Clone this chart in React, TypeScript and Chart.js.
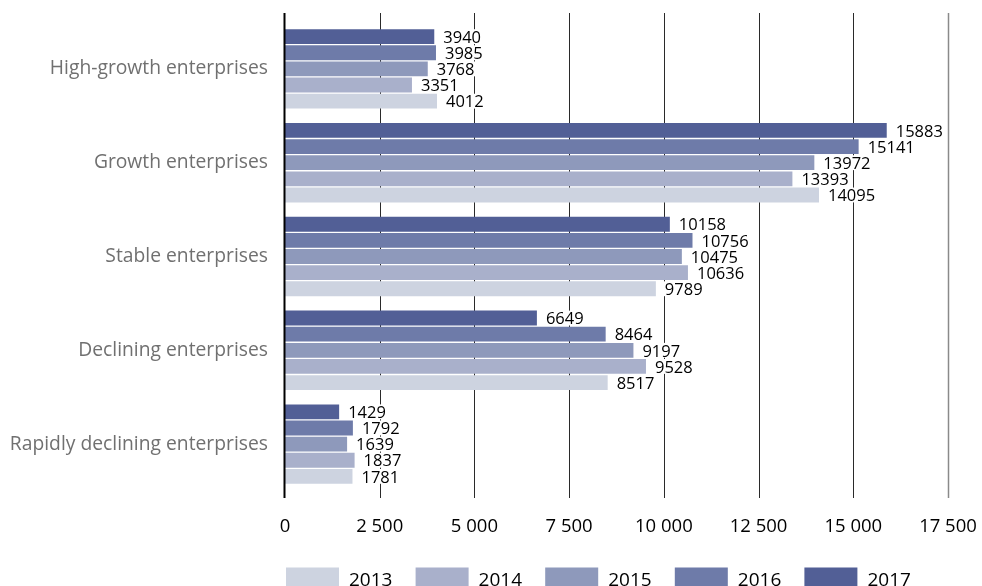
import React, { useEffect, useRef } from "react";
import { Chart, registerables } from "chart.js";

Chart.register(...registerables);

const categories = [
  "High-growth enterprises",
  "Growth enterprises",
  "Stable enterprises",
  "Declining enterprises",
  "Rapidly declining enterprises",
];
const years = ["2013", "2014", "2015", "2016", "2017"];
const values2013 = [4012, 14095, 9789, 8517, 1781];
const values2014 = [3351, 13393, 10636, 9528, 1837];
const values2015 = [3768, 13972, 10475, 9197, 1639];
const values2016 = [3985, 15141, 10756, 8464, 1792];
const values2017 = [3940, 15883, 10158, 6649, 1429];
const xTickValues = [0, 2500, 5000, 7500, 10000, 12500, 15000, 17500];
const yearColors = ["#cdd3e0", "#a9b0cb", "#8e99bb", "#6e7ba9", "#525f96"];

const FONT = "'Open Sans', 'Noto Sans', sans-serif";

const fmt = (v: number) => String(v).replace(/\B(?=(\d{3})+(?!\d))/g, " ");

const gridPlugin = {
  id: "customGrid",
  beforeDatasetsDraw(chart: any) {
    const { ctx, chartArea, scales } = chart;
    const xs = scales.x;
    const top = chartArea.top - 9;
    const bottom = chartArea.bottom + 7;
    ctx.save();
    xTickValues.forEach((v, i) => {
      if (v === 0) return;
      const px = Math.round(xs.getPixelForValue(v)) + 0.5;
      ctx.beginPath();
      ctx.strokeStyle = i === xTickValues.length - 1 ? "#8a8a8a" : "#2a2a2a";
      ctx.lineWidth = i === xTickValues.length - 1 ? 1.5 : 1;
      ctx.moveTo(px, top);
      ctx.lineTo(px, bottom);
      ctx.stroke();
    });
    ctx.restore();
  },
  afterDatasetsDraw(chart: any) {
    const { ctx, chartArea, scales } = chart;
    const xs = scales.x;
    const top = chartArea.top - 9;
    const bottom = chartArea.bottom + 7;
    // zero axis line
    const px0 = xs.getPixelForValue(0) - 0.5;
    ctx.save();
    ctx.beginPath();
    ctx.strokeStyle = "#000";
    ctx.lineWidth = 2;
    ctx.moveTo(px0, top);
    ctx.lineTo(px0, bottom);
    ctx.stroke();

    // value labels with white background
    ctx.font = `16.5px ${FONT}`;
    ctx.textAlign = "left";
    ctx.textBaseline = "middle";
    chart.data.datasets.forEach((ds: any, di: number) => {
      const meta = chart.getDatasetMeta(di);
      meta.data.forEach((bar: any, i: number) => {
        const text = String(ds.data[i]);
        const w = ctx.measureText(text).width;
        const h = bar.height;
        ctx.fillStyle = "#ffffff";
        ctx.fillRect(bar.x + 3, bar.y - h / 2, w + 9, h);
        ctx.fillStyle = "#000000";
        ctx.fillText(text, bar.x + 9, bar.y + 1.5);
      });
    });

    // legend
    const legendTop = 567.5;
    const startX = chartArea.left + 1;
    const pitch = 129.6;
    ctx.font = `19px ${FONT}`;
    ctx.textBaseline = "alphabetic";
    years.forEach((y, i) => {
      const x = startX + i * pitch;
      ctx.fillStyle = yearColors[i];
      ctx.fillRect(x, legendTop, 53, 22);
      ctx.fillStyle = "#000";
      ctx.fillText(y, x + 63, 585.5);
    });
    ctx.restore();
  },
};

export default function App() {
  const canvasRef = useRef<HTMLCanvasElement | null>(null);

  useEffect(() => {
    if (!canvasRef.current) return;
    const seriesByYear: Record<string, number[]> = {
      "2013": values2013,
      "2014": values2014,
      "2015": values2015,
      "2016": values2016,
      "2017": values2017,
    };
    const datasets = years
      .map((y, i) => ({
        label: y,
        data: seriesByYear[y],
        backgroundColor: yearColors[i],
        borderWidth: 0,
        categoryPercentage: 0.86,
        barPercentage: 0.92,
      }))
      .reverse();

    const chart = new Chart(canvasRef.current, {
      type: "bar",
      data: { labels: categories, datasets },
      plugins: [gridPlugin],
      options: {
        indexAxis: "y",
        animation: false,
        responsive: true,
        maintainAspectRatio: false,
        layout: { padding: { top: 22, right: 34, left: 0, bottom: 0 } },
        plugins: {
          legend: { display: false },
          tooltip: { enabled: false },
        },
        scales: {
          x: {
            type: "linear",
            min: 0,
            max: 17500,
            afterFit: (scale: any) => {
              scale.height = 95;
              scale.paddingLeft = 0;
              scale.paddingRight = 0;
            },
            afterBuildTicks: (scale: any) => {
              scale.ticks = xTickValues.map((v) => ({ value: v }));
            },
            grid: { display: false },
            border: { display: false },
            ticks: {
              color: "#000",
              padding: 17,
              maxRotation: 0,
              font: { family: FONT, size: 18.5 },
              callback: (v: any) => fmt(Number(v)),
            },
          },
          y: {
            type: "category",
            afterFit: (scale: any) => {
              scale.width = 285;
              scale.paddingTop = 0;
              scale.paddingBottom = 0;
            },
            grid: { display: false },
            border: { display: false },
            ticks: {
              color: "#707070",
              padding: 9,
              font: { family: FONT, size: 19.3 },
            },
          },
        },
      } as any,
    });
    return () => chart.destroy();
  }, []);

  return (
    <div style={{ position: "absolute", left: 0, top: 0, width: 982, height: 586, background: "#fff" }}>
      <canvas ref={canvasRef} />
    </div>
  );
}
